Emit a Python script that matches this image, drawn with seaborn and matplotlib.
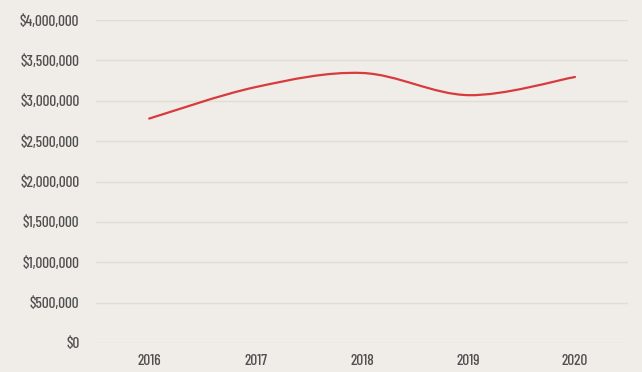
import matplotlib
matplotlib.use("Agg")
import matplotlib.pyplot as plt
from matplotlib.path import Path
from matplotlib.patches import PathPatch
from matplotlib.ticker import FuncFormatter
import numpy as np
import seaborn as sns

# data
years = ["2016", "2017", "2018", "2019", "2020"]
revenue = [2780000, 3170000, 3345000, 3070000, 3295000]
y_ticks = [0, 500000, 1000000, 1500000, 2000000, 2500000, 3000000, 3500000, 4000000]

bg = "#f0ede8"
sns.set_theme(style="white", rc={"axes.facecolor": bg, "figure.facecolor": bg})
plt.rcParams["font.family"] = ["Barlow Condensed", "DejaVu Sans"]

fig = plt.figure(figsize=(6.42, 3.72), dpi=100)
ax = fig.add_axes([0.1495, 0.078, 0.829, 0.868])

# smoothed line (Catmull-Rom style bezier through the points)
x = np.arange(len(years), dtype=float)
y = np.array(revenue, dtype=float)
verts = [(x[0], y[0])]
codes = [Path.MOVETO]
for i in range(len(x) - 1):
    p0 = (x[i - 1], y[i - 1]) if i > 0 else (x[i], y[i])
    p3 = (x[i + 2], y[i + 2]) if i + 2 < len(x) else (x[i + 1], y[i + 1])
    c1 = (x[i] + (x[i + 1] - p0[0]) / 6, y[i] + (y[i + 1] - p0[1]) / 6)
    c2 = (x[i + 1] - (p3[0] - x[i]) / 6, y[i + 1] - (p3[1] - y[i]) / 6)
    verts += [c1, c2, (x[i + 1], y[i + 1])]
    codes += [Path.CURVE4] * 3
ax.add_patch(PathPatch(Path(verts, codes), facecolor="none",
                       edgecolor="#d93a3c", lw=1.6, capstyle="round", zorder=3))

ax.set_xlim(-0.5, 4.5)
ax.set_ylim(0, 4000000)
ax.set_xticks(x)
ax.set_xticklabels(years)
ax.set_yticks(y_ticks)
ax.yaxis.set_major_formatter(FuncFormatter(lambda v, p: f"${v:,.0f}"))
ax.grid(axis="y", color="#e0ddd7", lw=1)
ax.set_axisbelow(True)
for s in ax.spines.values():
    s.set_visible(False)
ax.tick_params(axis="both", length=0, labelsize=11, labelcolor="#505050")
for lab in ax.get_xticklabels() + ax.get_yticklabels():
    lab.set_fontweight("medium")
ax.tick_params(axis="y", pad=12)
ax.tick_params(axis="x", pad=8)

fig.savefig("out.png", dpi=100, facecolor=bg)
